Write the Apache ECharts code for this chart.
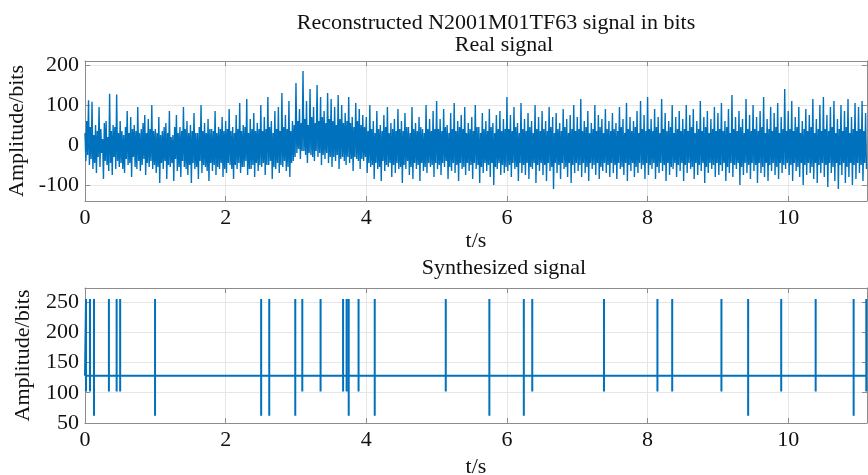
<!DOCTYPE html>
<html>
<head>
<meta charset="utf-8">
<script src="https://cdn.jsdelivr.net/npm/echarts@6/dist/echarts.min.js"></script>
<style>
html, body { margin: 0; padding: 0; background: #fff; }
#main { width: 868px; height: 475px; }
</style>
</head>
<body>
<div id="main"></div>
<script>
// real signal: one sample every realDt seconds, amplitude in bits
var realDt = 0.0125;
var realAmp = [
    30,-40,60,-25,112,-50,45,-35,108,-60,25,-45,50,-70,35,-30,95,-55,40,-20,15,-85,55,-40,60,-50,20,-65,128,-45,35,-75,50,-30,45,-60,126,-40,30,-55,
    60,-45,35,-60,25,-70,45,-35,85,-50,30,-45,70,-80,40,-30,50,-55,35,-60,95,-40,30,-65,40,-50,55,-35,75,-75,30,-45,65,-55,40,-40,100,-60,35,-50,
    40,-70,30,-55,70,-95,25,-45,35,-60,45,-40,55,-85,30,-50,85,-55,20,-45,25,-90,45,-35,75,-65,30,-55,45,-80,35,-40,95,-55,40,-60,60,-75,30,-50,
    50,-95,35,-45,80,-60,30,-55,30,-85,45,-40,100,-70,35,-50,55,-55,30,-65,65,-90,40,-45,40,-65,35,-50,85,-75,30,-55,45,-60,40,-45,70,-80,35,-60,
    60,-70,40,-45,90,-50,35,-60,45,-85,30,-50,75,-60,40,-45,105,-70,35,-55,50,-55,45,-40,115,-75,30,-60,65,-60,40,-50,80,-80,35,-45,55,-65,40,-50,
    100,-55,35,-45,70,-75,40,-50,120,-50,45,-40,60,-85,30,-55,85,-60,40,-45,95,-70,35,-50,130,-55,45,-40,75,-65,40,-55,110,-80,35,-45,60,-40,50,-30,
    155,-20,60,-10,90,-35,55,-15,185,-15,65,-25,110,-45,50,-20,140,-25,70,-30,95,-40,55,-15,150,-30,60,-20,120,-50,70,-25,85,-35,55,-20,130,-45,65,-30,
    115,-55,60,-30,95,-40,50,-25,125,-60,65,-35,100,-30,55,-40,80,-50,60,-30,120,-45,55,-35,70,-65,45,-30,105,-35,60,-40,90,-60,50,-35,75,-40,45,-30,
    70,-70,35,-45,100,-55,40,-50,60,-85,30,-45,85,-60,40,-55,50,-90,35,-40,75,-65,45,-50,95,-55,30,-45,55,-80,40,-50,65,-70,35,-45,90,-60,40,-55,
    60,-95,35,-50,80,-60,45,-40,45,-75,30,-55,95,-85,40,-45,55,-60,35,-50,70,-90,45,-45,40,-65,30,-55,100,-70,40,-45,65,-55,35,-50,85,-80,40,-45,
    110,-60,40,-50,65,-75,35,-45,90,-55,45,-40,50,-85,30,-55,80,-65,40,-45,105,-70,35,-50,60,-90,45,-45,75,-60,40,-55,95,-75,30,-45,55,-65,40,-50,
    70,-85,35,-45,100,-60,45,-50,45,-95,30,-55,80,-70,40,-45,60,-65,35,-50,90,-80,45,-45,55,-100,30,-55,75,-60,40,-45,85,-75,35,-50,65,-70,40,-55,
    120,-65,40,-50,75,-80,35,-45,95,-60,45,-55,55,-90,30,-45,105,-70,40,-50,65,-75,35,-45,80,-85,45,-55,60,-60,30,-45,100,-95,40,-50,70,-65,35,-45,
    85,-75,40,-50,60,-90,35,-45,95,-65,45,-55,70,-110,30,-45,80,-70,40,-50,55,-85,35,-45,90,-60,45,-55,65,-80,30,-45,75,-95,40,-50,100,-70,35,-45,
    70,-65,40,-50,115,-80,35,-45,60,-70,45,-55,85,-90,30,-45,55,-60,40,-50,100,-75,35,-45,75,-85,45,-55,65,-65,30,-45,90,-70,40,-50,60,-80,35,-45,
    80,-70,40,-50,55,-85,35,-45,95,-60,45,-55,65,-75,30,-45,105,-90,40,-50,70,-65,35,-45,60,-80,45,-55,85,-70,30,-45,110,-60,40,-50,75,-85,35,-45,
    120,-75,40,-50,65,-60,35,-45,90,-85,45,-55,70,-70,30,-45,115,-65,40,-50,80,-90,35,-45,60,-75,45,-55,100,-60,30,-45,70,-80,40,-50,85,-65,35,-45,
    65,-90,40,-50,100,-70,35,-45,75,-60,45,-55,90,-85,30,-45,60,-75,40,-50,110,-65,35,-45,70,-95,45,-55,85,-70,30,-45,65,-60,40,-50,95,-80,35,-45,
    80,-75,40,-50,105,-65,35,-45,60,-90,45,-55,90,-70,30,-45,125,-80,40,-50,70,-60,35,-45,85,-100,45,-55,65,-75,30,-45,115,-70,40,-50,75,-85,35,-45,
    100,-65,40,-50,70,-95,35,-45,85,-70,45,-55,120,-80,30,-45,65,-90,40,-50,95,-65,35,-45,80,-75,45,-55,105,-85,30,-45,70,-70,40,-50,140,-60,35,-45,
    85,-75,40,-50,110,-90,35,-45,70,-65,45,-55,95,-80,30,-45,60,-100,40,-50,90,-75,35,-45,75,-70,45,-55,115,-85,30,-45,65,-95,40,-50,100,-70,35,-45,
    120,-80,40,-50,75,-105,35,-45,95,-70,45,-55,110,-90,30,-45,65,-110,40,-50,100,-75,35,-45,85,-95,45,-55,115,-80,30,-45,70,-100,40,-50,105,-85,35,-45,
    95,-70,40,-50,110,-90,35,-45,80,-60
];

// synthesized signal: flat at 128 with pulses up to 255 and back down
var synthBase = 128;
var synthPeak = 255;
var spikeTimes = [0.014, 0.071, 0.128, 0.34, 0.45, 0.50, 0.996, 2.505, 2.62, 2.99, 3.09, 3.35, 3.67, 3.72, 3.75, 3.89, 4.12,
                  5.13, 5.75, 6.24, 6.36, 7.38, 8.14, 8.35, 9.05, 9.43, 9.90, 10.39, 10.93, 11.11];
var spikeLows  = [102, 102, 62, 102, 102, 102, 62, 62, 62, 62, 102, 102, 102, 102, 62, 102, 62,
                  102, 62, 62, 102, 102, 102, 102, 102, 62, 102, 102, 62, 102];

var tMax = 11.12;
var xTicks = [0, 2, 4, 6, 8, 10];
var realTicks = [-100, 0, 100, 200];
var synthTicks = [50, 100, 150, 200, 250];

var FONT = 'Liberation Serif';
var axisGray = '#8c8c8c';
var gridGray = '#e6e6e6';
var blue = '#0072bd';

var realData = [];
for (var i = 0; i < realAmp.length; i++) {
    realData.push([i * realDt, realAmp[i]]);
}
var synthData = [[0, synthBase]];
for (var k = 0; k < spikeTimes.length; k++) {
    synthData.push([spikeTimes[k], synthBase]);
    synthData.push([spikeTimes[k], synthPeak]);
    synthData.push([spikeTimes[k], spikeLows[k]]);
    synthData.push([spikeTimes[k], synthBase]);
}
synthData.push([tMax, synthBase]);

function bottomX(gridIndex, nameGap) {
    return {
        type: 'value', gridIndex: gridIndex, position: 'bottom',
        min: 0, max: tMax,
        name: 't/s', nameLocation: 'middle', nameGap: nameGap,
        nameTextStyle: { fontFamily: FONT, fontSize: 22, color: '#111' },
        axisLine: { onZero: false, lineStyle: { color: axisGray, width: 1 } },
        axisTick: { inside: true, length: 5, customValues: xTicks, lineStyle: { color: axisGray } },
        axisLabel: { customValues: xTicks, fontFamily: FONT, fontSize: 22, color: '#111', margin: 6 },
        splitLine: { show: true, lineStyle: { color: gridGray, width: 1 } }
    };
}
function topX(gridIndex) {
    return {
        type: 'value', gridIndex: gridIndex, position: 'top',
        min: 0, max: tMax,
        axisLine: { onZero: false, lineStyle: { color: axisGray, width: 1 } },
        axisTick: { inside: true, length: 5, customValues: xTicks, lineStyle: { color: axisGray } },
        axisLabel: { show: false },
        splitLine: { show: false }
    };
}
function leftY(gridIndex, min, max, ticks) {
    return {
        type: 'value', gridIndex: gridIndex, position: 'left',
        min: min, max: max,
        name: 'Amplitude/bits', nameLocation: 'middle', nameGap: 51,
        nameTextStyle: { fontFamily: FONT, fontSize: 22, color: '#111' },
        axisLine: { show: true, onZero: false, lineStyle: { color: axisGray, width: 1 } },
        axisTick: { show: true, inside: true, length: 5, customValues: ticks, lineStyle: { color: axisGray } },
        axisLabel: { customValues: ticks, fontFamily: FONT, fontSize: 22, color: '#111', margin: 6 },
        splitLine: { show: true, lineStyle: { color: gridGray, width: 1 } }
    };
}
function rightY(gridIndex, min, max, ticks) {
    return {
        type: 'value', gridIndex: gridIndex, position: 'right',
        min: min, max: max,
        axisLine: { show: true, onZero: false, lineStyle: { color: axisGray, width: 1 } },
        axisTick: { show: true, inside: true, length: 5, customValues: ticks, lineStyle: { color: axisGray } },
        axisLabel: { show: false },
        splitLine: { show: false }
    };
}

var chart = echarts.init(document.getElementById('main'), null, { renderer: 'canvas' });
var option = {
    animation: false,
    backgroundColor: '#fff',
    graphic: [
        { type: 'text', x: 496, y: 23, style: { text: 'Reconstructed N2001M01TF63 signal in bits', font: '22px "Liberation Serif"', fill: '#111', align: 'center', verticalAlign: 'middle' } },
        { type: 'text', x: 504, y: 45, style: { text: 'Real signal', font: '22px "Liberation Serif"', fill: '#111', align: 'center', verticalAlign: 'middle' } },
        { type: 'text', x: 504, y: 268, style: { text: 'Synthesized signal', font: '22px "Liberation Serif"', fill: '#111', align: 'center', verticalAlign: 'middle' } }
    ],
    grid: [
        { left: 85, top: 61, width: 782, height: 140, outerBoundsMode: 'none' },
        { left: 85, top: 288, width: 782, height: 135, outerBoundsMode: 'none' }
    ],
    xAxis: [bottomX(0, 24), topX(0), bottomX(1, 33), topX(1)],
    yAxis: [
        leftY(0, -140, 210, realTicks),
        rightY(0, -140, 210, realTicks),
        leftY(1, 50, 273, synthTicks),
        rightY(1, 50, 273, synthTicks)
    ],
    series: [
        {
            name: 'Real signal', type: 'line',
            xAxisIndex: 0, yAxisIndex: 0,
            data: realData,
            showSymbol: false, symbol: 'none',
            sampling: 'none',
            lineStyle: { color: blue, width: 1.4 },
            silent: true
        },
        {
            name: 'Synthesized signal', type: 'line',
            xAxisIndex: 2, yAxisIndex: 2,
            data: synthData,
            showSymbol: false, symbol: 'none',
            lineStyle: { color: blue, width: 2 },
            silent: true
        }
    ]
};
chart.setOption(option);
</script>
</body>
</html>
